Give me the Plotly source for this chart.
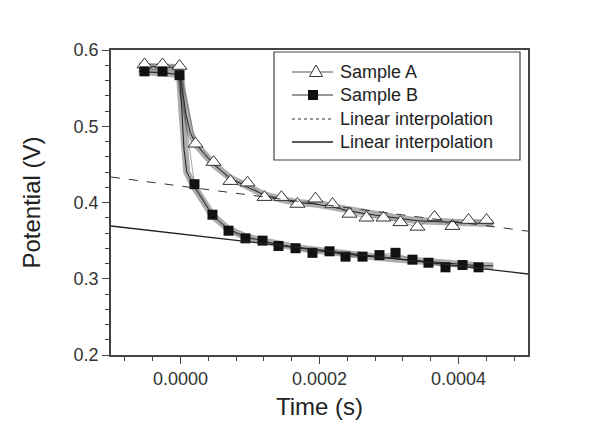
import plotly.graph_objects as go

# ---- data ----
time_a = [-0.0000518, -0.0000259, -0.0000014, 0.0000216, 0.0000475, 0.0000719, 0.0000964,
          0.0001209, 0.0001453, 0.0001683, 0.0001942, 0.0002187, 0.0002432, 0.0002676,
          0.0002921, 0.0003165, 0.0003410, 0.0003655, 0.0003914, 0.0004144, 0.0004403]
volt_a = [0.581, 0.581, 0.579, 0.477, 0.453, 0.428, 0.426, 0.407, 0.407, 0.398, 0.405,
          0.398, 0.385, 0.380, 0.380, 0.374, 0.368, 0.381, 0.369, 0.377, 0.377]

time_b = [-0.0000518, -0.0000259, -0.0000014, 0.0000201, 0.0000460, 0.0000691, 0.0000935,
          0.0001180, 0.0001410, 0.0001655, 0.0001899, 0.0002144, 0.0002374, 0.0002619,
          0.0002863, 0.0003094, 0.0003338, 0.0003568, 0.0003813, 0.0004058, 0.0004288]
volt_b = [0.572, 0.572, 0.567, 0.424, 0.384, 0.363, 0.353, 0.350, 0.343, 0.340, 0.334,
          0.336, 0.329, 0.329, 0.331, 0.334, 0.325, 0.321, 0.315, 0.318, 0.315]

# raw trace shape
raw_time_a = [-0.00006, -0.0000014, 0.0000030, 0.0000080, 0.0000140, 0.0000216, 0.0000475,
              0.0000719, 0.0000964, 0.0001209, 0.0001453, 0.0001683, 0.0001942, 0.0002187,
              0.0002432, 0.0002676, 0.0002921, 0.0003165, 0.0003410, 0.0003655, 0.0003914,
              0.0004144, 0.0004403, 0.00045]
raw_volt_a = [0.579, 0.577, 0.545, 0.515, 0.492, 0.477, 0.450, 0.432, 0.420, 0.410, 0.404,
              0.400, 0.398, 0.394, 0.389, 0.385, 0.382, 0.379, 0.376, 0.375, 0.374,
              0.373, 0.372, 0.372]
raw_time_b = [-0.00006, -0.0000014, 0.0000020, 0.0000050, 0.0000090, 0.0000201, 0.0000460,
              0.0000691, 0.0000935, 0.0001180, 0.0001410, 0.0001655, 0.0001899, 0.0002144,
              0.0002374, 0.0002619, 0.0002863, 0.0003094, 0.0003338, 0.0003568, 0.0003813,
              0.0004058, 0.0004288, 0.00045]
raw_volt_b = [0.572, 0.568, 0.520, 0.470, 0.440, 0.420, 0.383, 0.365, 0.355, 0.350, 0.345,
              0.341, 0.338, 0.335, 0.332, 0.330, 0.328, 0.326, 0.324, 0.322, 0.320,
              0.318, 0.317, 0.317]

fit_time = [-0.0001, 0.0005]
fit_a = [0.4334, 0.3624]
fit_b = [0.3692, 0.3062]

legend_labels = ["Sample A", "Sample B", "Linear interpolation", "Linear interpolation"]

FONT = "Liberation Sans, Arial"
W, H = 610, 425
ML, MR, MT, MB = 111, 82, 50, 70
PW, PH = W - ML - MR, H - MT - MB


def px(xp):
    return (xp - ML) / PW


def py(yp):
    return (H - MB - yp) / PH


fig = go.Figure()

for tx, vy in [(raw_time_a, raw_volt_a), (raw_time_b, raw_volt_b)]:
    fig.add_trace(go.Scatter(x=tx, y=vy, mode="lines", showlegend=False, hoverinfo="skip",
                             line=dict(color="rgba(50,50,50,0.4)", width=7)))
    fig.add_trace(go.Scatter(x=tx, y=vy, mode="lines", showlegend=False, hoverinfo="skip",
                             line=dict(color="#222222", width=1)))

fig.add_trace(go.Scatter(x=time_a, y=volt_a, mode="lines+markers", name=legend_labels[0],
                         showlegend=False,
                         line=dict(color="rgba(70,70,70,0.6)", width=0.8),
                         marker=dict(symbol="triangle-up", size=13, color="white",
                                     line=dict(color="#333333", width=1))))
fig.add_trace(go.Scatter(x=time_b, y=volt_b, mode="lines+markers", name=legend_labels[1],
                         showlegend=False,
                         line=dict(color="rgba(70,70,70,0.6)", width=0.8),
                         marker=dict(symbol="square", size=10, color="#111111",
                                     line=dict(color="#111111", width=0))))
fig.add_trace(go.Scatter(x=fit_time, y=fit_a, mode="lines", name=legend_labels[2],
                         showlegend=False,
                         line=dict(color="#333333", width=1, dash="dash")))
fig.add_trace(go.Scatter(x=fit_time, y=fit_b, mode="lines", name=legend_labels[3],
                         showlegend=False,
                         line=dict(color="#222222", width=1.3)))

axis_common = dict(showline=True, linecolor="#444444", linewidth=1.5, mirror=True,
                   ticks="outside", ticklen=7, tickwidth=1.2, tickcolor="#444444",
                   showgrid=False, zeroline=False, automargin=False,
                   tickfont=dict(family=FONT, size=18, color="#333333"))

fig.update_xaxes(range=[-0.0001, 0.0005], tickvals=[0, 0.0002, 0.0004], tickformat=".4f",
                 minor=dict(ticks="outside", ticklen=4, tickcolor="#444444", dtick=0.00004,
                            tick0=0),
                 title=dict(text="Time (s)", font=dict(family=FONT, size=24, color="#222222"),
                            standoff=10),
                 **axis_common)
fig.update_yaxes(range=[0.2, 0.6], dtick=0.1, tickformat=".1f",
                 minor=dict(ticks="outside", ticklen=4, tickcolor="#444444", dtick=0.02),
                 title=dict(text="Potential (V)", font=dict(family=FONT, size=24,
                                                             color="#222222"),
                            standoff=26),
                 **axis_common)

# ---- hand-built legend (box, samples, text) ----
shapes = [dict(type="rect", xref="paper", yref="paper", layer="above",
               x0=px(274), x1=px(520), y0=py(160), y1=py(52),
               line=dict(color="#444444", width=1.2), fillcolor="white")]
rows_y = [72, 95, 119, 142]
line_styles = [dict(color="#555555", width=1), dict(color="#333333", width=1),
               dict(color="#333333", width=1, dash="3px,3px"), dict(color="#222222", width=1.3)]
for yy, ls in zip(rows_y, line_styles):
    shapes.append(dict(type="line", xref="paper", yref="paper", layer="above",
                       x0=px(292), x1=px(333), y0=py(yy), y1=py(yy), line=ls))
# triangle glyph
shapes.append(dict(type="path", xref="paper", yref="paper", layer="above",
                   xsizemode="pixel", ysizemode="pixel", xanchor=px(316), yanchor=py(rows_y[0]),
                   path="M-6.5,-4.5 L6.5,-4.5 L0,7 Z",
                   fillcolor="white", line=dict(color="#333333", width=1)))
# square glyph
shapes.append(dict(type="rect", xref="paper", yref="paper", layer="above",
                   xsizemode="pixel", ysizemode="pixel", xanchor=px(313), yanchor=py(rows_y[1]),
                   x0=-5, x1=5, y0=-5, y1=5,
                   fillcolor="#111111", line=dict(color="#111111", width=0)))

annotations = []
for yy, lab in zip(rows_y, legend_labels):
    annotations.append(dict(xref="paper", yref="paper", x=px(339), y=py(yy),
                            xanchor="left", yanchor="middle", text=lab, showarrow=False,
                            borderpad=0,
                            font=dict(family=FONT, size=18, color="#222222")))

fig.update_layout(
    width=W, height=H,
    margin=dict(l=ML, r=MR, t=MT, b=MB),
    plot_bgcolor="white", paper_bgcolor="white",
    showlegend=False,
    shapes=shapes,
    annotations=annotations,
)

fig.write_html("out.html")
